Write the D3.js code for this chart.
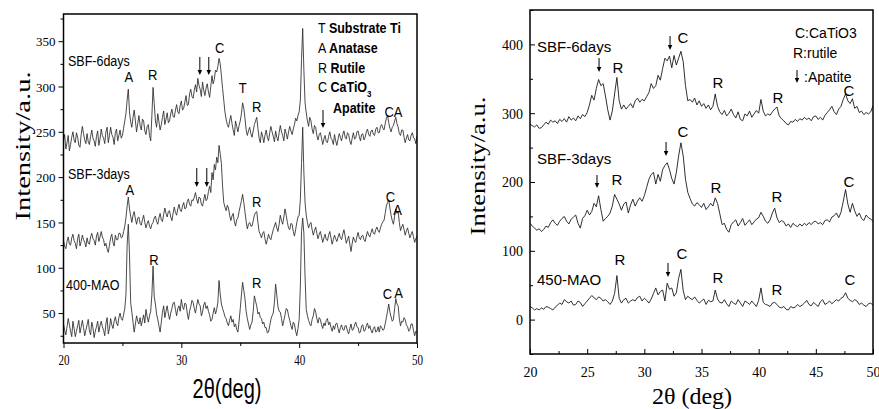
<!DOCTYPE html>
<html>
<head>
<meta charset="utf-8">
<script src="https://cdn.jsdelivr.net/npm/d3@7"></script>
<style>
  html, body { margin: 0; padding: 0; background: #fff; }
  svg { display: block; }
</style>
</head>
<body>
<svg id="svg-wrapper" width="879" height="409"></svg>
<script>
// Two XRD panels side by side

const WIDTH = 879;
const HEIGHT = 409;

// 2theta sampling of the patterns (left panel is sampled finer)
const twoThetaStart = 20;
const leftStep = 0.1;
const rightStep = 0.2;

// ---- left panel data (20..50 deg, every 0.1 deg, one row = 2 deg) ----
const leftSbf6 = [
  240,247,231,238,246,229,236,244,250,241,238,249,244,235,233,247,256,248,241,237,
  248,239,236,245,252,243,240,234,245,251,235,242,253,246,243,237,250,255,238,246,
  255,247,244,236,249,253,240,246,252,243,246,254,262,270,285,297,272,261,255,266,
  274,262,250,259,268,257,252,264,262,251,247,256,258,246,240,268,299,281,262,255,
  270,261,252,258,266,273,258,264,271,260,262,270,275,267,266,274,280,272,270,279,
  284,274,276,283,290,279,280,292,297,289,287,296,302,294,309,301,297,289,305,296,
  290,298,303,294,288,300,312,303,308,318,316,322,331,325,312,298,285,272,264,258,
  255,262,268,259,252,246,262,256,250,257,262,270,282,276,265,252,246,251,255,248,
  244,251,258,262,266,254,243,238,250,245,238,246,252,244,240,249,256,250,245,239,
  251,244,240,249,257,250,246,240,253,248,242,250,256,251,247,253,258,265,262,268,
  272,285,330,364,318,282,271,262,256,266,262,253,248,257,255,246,241,247,249,243,
  236,242,246,239,238,245,250,243,241,236,247,240,235,242,248,244,240,247,251,244,
  242,249,247,240,236,243,249,242,243,250,251,245,240,247,248,241,244,250,253,247,
  245,251,252,247,246,253,255,249,249,256,258,254,252,259,265,268,260,254,250,255,
  257,262,266,259,255,248,246,252,252,244,238,243,247,241,240,246,249,244,242,237,
  246
];
const leftSbf3 = [
  130,124,121,129,134,126,125,133,137,130,127,121,132,137,124,129,136,131,128,123,
  133,127,126,134,138,132,130,125,135,139,129,134,140,134,131,124,127,121,117,125,
  133,137,128,124,136,131,131,138,138,133,134,140,146,155,168,178,165,157,150,158,
  162,154,148,155,156,149,147,153,158,150,144,149,152,146,143,148,150,155,157,151,
  148,155,160,153,151,159,166,160,156,162,163,156,152,160,167,161,158,165,170,164,
  162,168,172,165,166,173,176,170,168,175,174,178,183,176,171,178,177,170,168,175,
  181,174,176,184,190,183,205,197,214,208,222,216,235,226,215,190,172,167,163,169,
  166,158,152,157,160,151,146,153,155,162,168,174,181,172,162,151,143,148,150,146,
  146,152,158,161,162,150,140,137,133,138,140,132,126,131,137,133,131,137,142,146,
  150,144,140,148,158,152,148,156,165,158,150,144,142,149,148,140,135,142,150,156,
  158,175,215,255,205,172,158,150,144,148,150,142,136,141,145,138,132,137,140,134,
  128,133,137,131,130,136,140,133,126,131,136,132,129,134,138,133,131,137,142,135,
  127,131,135,126,118,127,134,130,128,134,139,133,131,135,136,131,129,135,140,136,
  134,139,143,138,137,142,145,141,139,144,148,151,152,160,168,172,175,166,158,152,
  148,157,165,160,162,150,141,145,148,142,136,141,144,138,133,137,140,134,128,132,
  135
];
const leftMao400 = [
  38,31,26,35,44,37,30,24,41,33,24,30,36,42,28,35,42,34,25,31,
  37,43,30,26,40,34,23,30,35,41,29,36,41,35,31,25,38,45,27,33,
  44,37,33,41,46,39,36,45,50,44,42,48,55,70,125,148,115,62,51,40,
  29,38,47,41,38,45,36,42,48,39,54,46,40,47,52,70,102,68,60,49,
  43,36,29,40,51,58,45,52,58,49,43,50,55,61,62,54,47,55,58,52,
  65,57,54,61,60,50,43,52,57,64,62,55,50,58,65,60,58,47,51,59,
  62,55,58,52,48,41,43,50,56,49,54,62,86,71,60,55,51,46,44,39,
  36,42,47,40,43,35,38,32,29,41,55,70,84,75,66,52,44,38,32,37,
  40,52,69,63,58,49,51,45,44,38,40,34,34,28,29,36,43,47,50,62,
  82,70,57,52,51,44,36,42,48,55,54,47,42,36,32,40,38,30,25,33,
  43,80,140,155,138,90,54,47,42,38,36,43,47,55,51,44,39,45,43,37,
  33,39,36,42,44,37,40,34,30,36,32,38,39,33,28,34,37,32,31,36,
  36,30,27,33,38,31,32,37,40,35,34,28,29,36,37,30,31,36,39,33,
  36,31,28,33,35,29,30,35,29,36,34,31,32,38,45,52,60,51,46,41,
  43,55,66,60,58,44,36,41,40,45,43,37,35,30,32,38,38,31,25,30,
  29
];

// ---- right panel data (every 0.2 deg, one row = 2 deg) ----
const rightSbf6 = [
  284,282,280,283,278,279,283,287,284,290,
  287,289,285,291,288,292,287,295,290,293,
  289,296,292,298,295,301,312,326,319,336,
  349,340,343,325,305,290,303,328,352,318,
  306,312,306,310,314,308,318,322,316,320,
  318,324,330,343,336,340,355,348,365,380,
  376,383,366,384,370,380,390,375,340,318,
  320,316,322,312,318,310,314,307,312,305,
  310,328,310,302,298,304,296,300,306,298,
  293,302,291,289,299,296,303,294,299,304,
  300,320,303,296,299,297,302,306,309,296,
  292,289,285,283,288,287,291,288,292,290,
  294,291,293,289,295,296,291,294,290,297,
  301,305,310,302,298,306,310,320,328,318,
  314,321,307,310,301,303,298,301,299,302,
  311
];
const rightSbf3 = [
  140,136,133,130,132,128,131,136,134,141,
  145,140,137,143,147,150,143,139,146,149,
  152,140,133,147,151,159,152,157,169,164,
  180,160,143,147,150,155,165,182,175,168,
  159,168,171,155,167,175,165,172,177,172,
  180,192,204,211,214,197,211,201,218,224,
  228,218,205,197,214,238,257,238,204,185,
  176,168,165,170,167,163,169,160,164,169,
  165,177,169,154,138,140,131,127,138,142,
  145,136,141,147,137,141,145,138,142,146,
  148,156,150,143,140,145,155,162,148,141,
  144,142,136,139,134,140,137,135,139,136,
  140,137,141,138,142,143,139,141,138,144,
  145,142,149,151,155,148,156,172,189,168,
  156,169,158,150,155,147,144,152,148,146,
  143
];
const rightMao450 = [
  19,17,14,16,14,17,15,19,18,16,
  14,18,21,24,22,29,26,24,27,21,
  22,27,25,19,23,27,31,35,32,29,
  33,31,27,29,26,22,27,38,64,31,
  24,29,31,24,27,29,27,32,34,27,
  31,28,24,30,38,46,36,41,43,27,
  53,44,46,34,39,60,73,42,29,34,
  31,29,33,28,24,27,30,22,28,26,
  27,43,30,25,24,29,23,19,27,24,
  22,29,24,19,27,25,22,27,23,19,
  28,46,25,22,21,19,24,25,22,18,
  17,19,15,14,19,17,18,22,19,21,
  24,28,22,20,25,22,19,26,29,22,
  24,27,23,26,29,27,31,33,39,31,
  28,26,29,27,22,24,21,19,23,24,
  21
];

// tick values
const xMajorTicks = [20, 30, 40, 50];
const xMinorTicks = [25, 35, 45];
const leftYMajorTicks = [50, 100, 150, 200, 250, 300, 350];
const leftYMinorTicks = [25, 75, 125, 175, 225, 275, 325, 375];
const rightXMajorTicks = [20, 25, 30, 35, 40, 45, 50];
const rightXMinorTicks = [22.5, 27.5, 32.5, 37.5, 42.5, 47.5];
const rightYMajorTicks = [0, 100, 200, 300, 400];
const rightYMinorTicks = [-50, 50, 150, 250, 350, 450];

// series names: [label, 2theta, intensity]
const leftNames = [['SBF-6days', 20.38, 328.6], ['SBF-3days', 20.38, 203.5], ['400-MAO', 20.21, 81]];
const rightNames = [['SBF-6days', 20.61, 396.2], ['SBF-3days', 20.61, 233.4], ['450-MAO', 20.61, 57.6]];

// phase letters over the peaks: [letter, 2theta, intensity]
const leftPeakLabels = [
  ['A', 25.55, 310.5], ['R', 27.58, 312.7], ['C', 33.26, 342.5], ['T', 35.21, 298.4], ['R', 36.4, 277.4], ['CA', 48.0, 271.9],
  ['A', 25.64, 185.8], ['R', 36.4, 172.6], ['C', 47.75, 178], ['A', 48.35, 163.7],
  ['R', 27.67, 108.6], ['R', 36.4, 83.2], ['C', 47.5, 71.1], ['A', 48.43, 72.2]
];
const rightPeakLabels = [
  ['R', 27.70, 365.7], ['C', 33.38, 409.3], ['R', 36.44, 343.9], ['R', 41.69, 322.1], ['C', 47.90, 333.0],
  ['R', 27.61, 202.9], ['C', 33.38, 272.7], ['R', 36.27, 191.3], ['R', 41.60, 178.2], ['C', 47.90, 200.0],
  ['R', 27.87, 86.6], ['C', 33.29, 95.3], ['R', 36.44, 60.5], ['R', 41.60, 43.0], ['C', 47.99, 57.6]
];

// apatite arrows: [2theta, top intensity, tip intensity]
const leftArrows = [[31.57, 332.6, 312.7], [32.33, 332.6, 312.7], [31.31, 210.1, 189.1], [32.16, 210.1, 189.1]];
const rightArrows = [[26.04, 380.2, 359.9], [32.25, 412.2, 391.9], [25.86, 210.2, 191.3], [31.9, 258.1, 237.8], [32.07, 82.3, 61.9]];


const svgWrapper = d3.select('#svg-wrapper');

const SANS = "'Liberation Sans', Arial, sans-serif";
const SERIF = "'Liberation Serif', 'Times New Roman', serif";


function drawArrow(g, x, yTop, yTip, head) {
    g.append('line')
        .attr('x1', x).attr('x2', x)
        .attr('y1', yTop).attr('y2', yTip - head + 1)
        .attr('stroke', '#000')
        .attr('stroke-width', 1);
    g.append('path')
        .attr('d', `M${x - head * 0.45},${yTip - head} L${x + head * 0.45},${yTip - head} L${x},${yTip} Z`)
        .attr('fill', '#000');
}

function drawPanel(cfg) {
    const x = d3.scaleLinear().domain([20, 50]).range([cfg.left, cfg.right]);
    const y = d3.scaleLinear().domain(cfg.yDomain).range([cfg.bottom, cfg.top]);

    const panel = svgWrapper.append('g').attr('class', cfg.name);

    // minor ticks first, majors on top
    const sign = cfg.inward ? -1 : 1;
    panel.append('g')
        .attr('transform', `translate(0,${cfg.bottom})`)
        .call(d3.axisBottom(x).tickValues(cfg.xMinor).tickSize(sign * cfg.minorLen).tickFormat(''))
        .call(a => a.select('.domain').remove());
    panel.append('g')
        .attr('transform', `translate(${cfg.left},0)`)
        .call(d3.axisLeft(y).tickValues(cfg.yMinor.filter(v => v >= cfg.yDomain[0] && v <= cfg.yDomain[1])).tickSize(sign * cfg.minorLen).tickFormat(''))
        .call(a => a.select('.domain').remove());

    const xAxis = panel.append('g')
        .attr('transform', `translate(0,${cfg.bottom})`)
        .call(d3.axisBottom(x).tickValues(cfg.xMajor).tickSize(sign * cfg.majorLen).tickFormat(d3.format('d')));
    xAxis.select('.domain').remove();
    xAxis.selectAll('text')
        .attr('font-family', SERIF)
        .attr('font-size', cfg.tickFont)
        .attr('fill', '#000')
        .attr('y', null).attr('dy', null)
        .attr('transform', `translate(0,${cfg.xLabelOffset}) scale(${cfg.tickScaleX},${cfg.tickScaleY})`)
        .attr('dominant-baseline', 'central');

    const yAxis = panel.append('g')
        .attr('transform', `translate(${cfg.left},0)`)
        .call(d3.axisLeft(y).tickValues(cfg.yMajor).tickSize(sign * cfg.majorLen).tickFormat(d3.format('d')));
    yAxis.select('.domain').remove();
    yAxis.selectAll('text')
        .attr('font-family', SERIF)
        .attr('font-size', cfg.tickFont)
        .attr('fill', '#000')
        .attr('x', -cfg.yLabelGap)
        .attr('dy', '0.35em');
    panel.selectAll('.tick line').attr('stroke', '#000').attr('stroke-width', 1);

    // the traces
    const line = d3.line()
        .x((d, i) => x(twoThetaStart + i * cfg.step))
        .y(d => y(d));

    panel.append('clipPath').attr('id', 'clip-' + cfg.name)
        .append('rect')
        .attr('x', cfg.left).attr('y', cfg.top)
        .attr('width', cfg.right - cfg.left).attr('height', cfg.bottom - cfg.top);

    panel.append('g')
        .attr('clip-path', `url(#clip-${cfg.name})`)
        .selectAll('path')
        .data(cfg.series)
        .enter()
        .append('path')
        .attr('d', line)
        .attr('fill', 'none')
        .attr('stroke', cfg.lineColor)
        .attr('stroke-width', cfg.lineWidth)
        .attr('stroke-linejoin', 'round');

    // frame
    panel.append('rect')
        .attr('x', cfg.left).attr('y', cfg.top)
        .attr('width', cfg.right - cfg.left).attr('height', cfg.bottom - cfg.top)
        .attr('fill', 'none')
        .attr('stroke', '#000')
        .attr('stroke-width', 1.5);

    // series names
    panel.selectAll('text.series-name')
        .data(cfg.names)
        .enter()
        .append('text')
        .attr('class', 'series-name')
        .attr('transform', d => `translate(${x(d[1])},${y(d[2])}) scale(1,${cfg.annScale})`)
        .attr('dy', '0.35em')
        .attr('font-family', SANS)
        .attr('font-size', cfg.nameFont)
        .text(d => d[0]);

    // peak letters
    panel.selectAll('text.peak')
        .data(cfg.peaks)
        .enter()
        .append('text')
        .attr('class', 'peak')
        .attr('transform', d => `translate(${x(d[1])},${y(d[2])}) scale(1,${cfg.annScale})`)
        .attr('dy', '0.35em')
        .attr('text-anchor', 'middle')
        .attr('font-family', SANS)
        .attr('font-size', cfg.peakFont)
        .text(d => d[0]);

    cfg.arrows.forEach(a => drawArrow(panel, x(a[0]), y(a[1]), y(a[2]), cfg.arrowHead));

    return { x, y, panel };
}


const left = drawPanel({
    name: 'left',
    left: 63.5, right: 417, top: 14, bottom: 343,
    yDomain: [17, 380],
    xMajor: xMajorTicks, xMinor: xMinorTicks,
    yMajor: leftYMajorTicks, yMinor: leftYMinorTicks,
    inward: false, majorLen: 5, minorLen: 3,
    tickFont: 13, tickScaleX: 0.85, tickScaleY: 1.2, xLabelOffset: 17, yLabelGap: 8,
    step: leftStep,
    series: [leftSbf6, leftSbf3, leftMao400],
    lineColor: '#2a2a2a', lineWidth: 0.85,
    names: leftNames, peaks: leftPeakLabels, arrows: leftArrows,
    nameFont: 12.5, peakFont: 13, annScale: 1.15, arrowHead: 5
});

const right = drawPanel({
    name: 'right',
    left: 530, right: 873, top: 10, bottom: 354,
    yDomain: [-50, 450],
    xMajor: rightXMajorTicks, xMinor: rightXMinorTicks,
    yMajor: rightYMajorTicks, yMinor: rightYMinorTicks,
    inward: true, majorLen: 5, minorLen: 3,
    tickFont: 14, tickScaleX: 1, tickScaleY: 1.1, xLabelOffset: 18, yLabelGap: 7,
    step: rightStep,
    series: [rightSbf6, rightSbf3, rightMao450],
    lineColor: '#1a1a1a', lineWidth: 0.9,
    names: rightNames, peaks: rightPeakLabels, arrows: rightArrows,
    nameFont: 15, peakFont: 15, annScale: 1, arrowHead: 5
});


// ---- left legend (phase key) ----
const leftLegend = left.panel.append('g')
    .attr('font-family', SANS)
    .attr('font-size', 12.5);
const leftKey = [['T', 'Substrate Ti'], ['A', 'Anatase'], ['R', 'Rutile'], ['C', 'CaTiO']];
leftKey.forEach((k, i) => {
    const t = leftLegend.append('text')
        .attr('transform', `translate(318,${28 + i * 19.8}) scale(1,1.15)`)
        .attr('dy', '0.35em');
    t.append('tspan').text(k[0] + ' ');
    t.append('tspan').attr('font-weight', 'bold').text(k[1]);
    if (k[0] === 'C') {
        t.append('tspan').attr('font-weight', 'bold').attr('font-size', 8).attr('dy', '0.45em').text('3');
    }
});
drawArrow(leftLegend, 323, 110, 128, 5);
leftLegend.append('text')
    .attr('transform', 'translate(333,108) scale(1,1.15)')
    .attr('dy', '0.35em')
    .attr('font-weight', 'bold')
    .text('Apatite');

// ---- right legend ----
const rightLegend = right.panel.append('g')
    .attr('font-family', SANS)
    .attr('font-size', 14);
rightLegend.append('text').attr('x', 795).attr('y', 33).attr('dy', '0.35em').text('C:CaTiO3');
rightLegend.append('text').attr('x', 793).attr('y', 53).attr('dy', '0.35em').text('R:rutile');
drawArrow(rightLegend, 797, 70, 83, 5);
rightLegend.append('text').attr('x', 804).attr('y', 77).attr('dy', '0.35em').text(':Apatite');


// ---- axis titles ----
svgWrapper.append('text')
    .attr('transform', 'translate(227,388) scale(1,1.4)')
    .attr('dy', '0.35em')
    .attr('text-anchor', 'middle')
    .attr('font-family', SANS)
    .attr('font-size', 20)
    .text('2θ(deg)');

svgWrapper.append('text')
    .attr('transform', 'translate(22,146) scale(1,1.3) rotate(-90)')
    .attr('dy', '0.35em')
    .attr('text-anchor', 'middle')
    .attr('font-family', SERIF)
    .attr('font-size', 22)
    .text('Intensity/a.u.');

svgWrapper.append('text')
    .attr('transform', 'translate(692,396)')
    .attr('dy', '0.35em')
    .attr('text-anchor', 'middle')
    .attr('font-family', SERIF)
    .attr('font-size', 24)
    .text('2θ (deg)');

svgWrapper.append('text')
    .attr('transform', 'translate(478,166) scale(1,1.33) rotate(-90)')
    .attr('dy', '0.35em')
    .attr('text-anchor', 'middle')
    .attr('font-family', SERIF)
    .attr('font-size', 20)
    .text('Intensity/a.u.');
</script>
</body>
</html>
